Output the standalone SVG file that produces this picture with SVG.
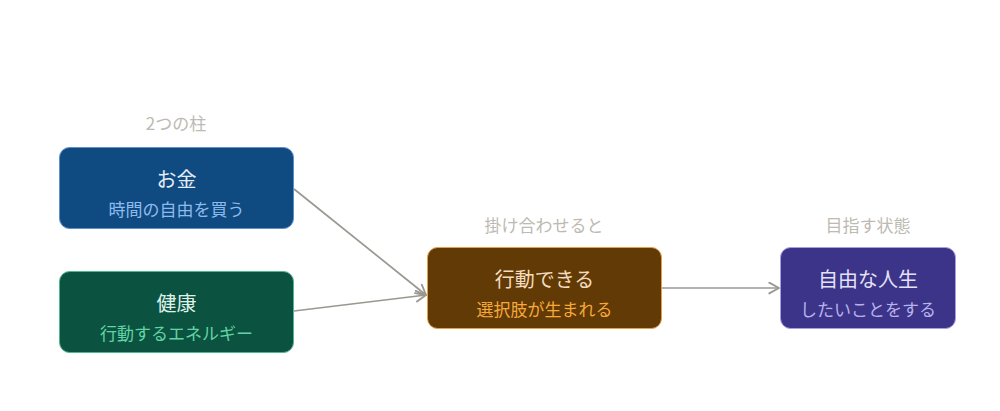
<svg xmlns="http://www.w3.org/2000/svg" width="1000" height="411" viewBox="0 0 1000 411">
<defs>
<style>
text{font-family:"Noto Sans CJK JP","Noto Sans",sans-serif;text-anchor:middle}
.lbl{font-size:17px;fill:#bdbab2}
.t{font-size:20px}
.s{font-size:17px}
.e{fill:none;stroke:#9a9890;stroke-width:1.7}
</style>
<marker id="ar" viewBox="0 0 12 12" refX="10" refY="6" markerWidth="13" markerHeight="13" markerUnits="userSpaceOnUse" orient="auto">
<path d="M1,1 L10,6 L1,11" fill="none" stroke="#9a9890" stroke-width="1.7" stroke-linecap="round" stroke-linejoin="round"/>
</marker>
</defs>
<rect width="1000" height="411" fill="#ffffff"/>
<g id="labels">
<text class="lbl" x="176" y="130">2つの柱</text>
<text class="lbl" x="544" y="232">掛け合わせると</text>
<text class="lbl" x="868" y="232">目指す状態</text>
</g>
<g id="connectors">
<line class="e" x1="294" y1="189" x2="426" y2="295" marker-end="url(#ar)"/>
<line class="e" x1="294" y1="311" x2="426" y2="295" marker-end="url(#ar)"/>
<line class="e" x1="662" y1="288" x2="779" y2="288" marker-end="url(#ar)"/>
</g>
<g id="money">
<rect x="59.5" y="147.5" width="234" height="81" rx="10" fill="#0f4a80" stroke="#5f8fc8" stroke-width="1"/>
<text class="t" x="176.5" y="187" fill="#e4ecf7">お金</text>
<text class="s" x="176.5" y="216" fill="#8ebbee">時間の自由を買う</text>
</g>
<g id="health">
<rect x="59.5" y="271.5" width="234" height="81" rx="10" fill="#0b5340" stroke="#4fb88a" stroke-width="1"/>
<text class="t" x="176.5" y="311" fill="#dff2ea">健康</text>
<text class="s" x="176.5" y="340" fill="#62d4a4">行動するエネルギー</text>
</g>
<g id="action">
<rect x="427.5" y="247.5" width="234" height="81" rx="10" fill="#623a06" stroke="#e2a24a" stroke-width="1"/>
<text class="t" x="544.5" y="287" fill="#f3dcbc">行動できる</text>
<text class="s" x="544.5" y="316" fill="#f5a93a">選択肢が生まれる</text>
</g>
<g id="life">
<rect x="780.5" y="247.5" width="175" height="81" rx="10" fill="#3c3489" stroke="#a59ee0" stroke-width="1"/>
<text class="t" x="868" y="287" fill="#e4e1f7">自由な人生</text>
<text class="s" x="868" y="316" fill="#b8b2ec">したいことをする</text>
</g>
</svg>
